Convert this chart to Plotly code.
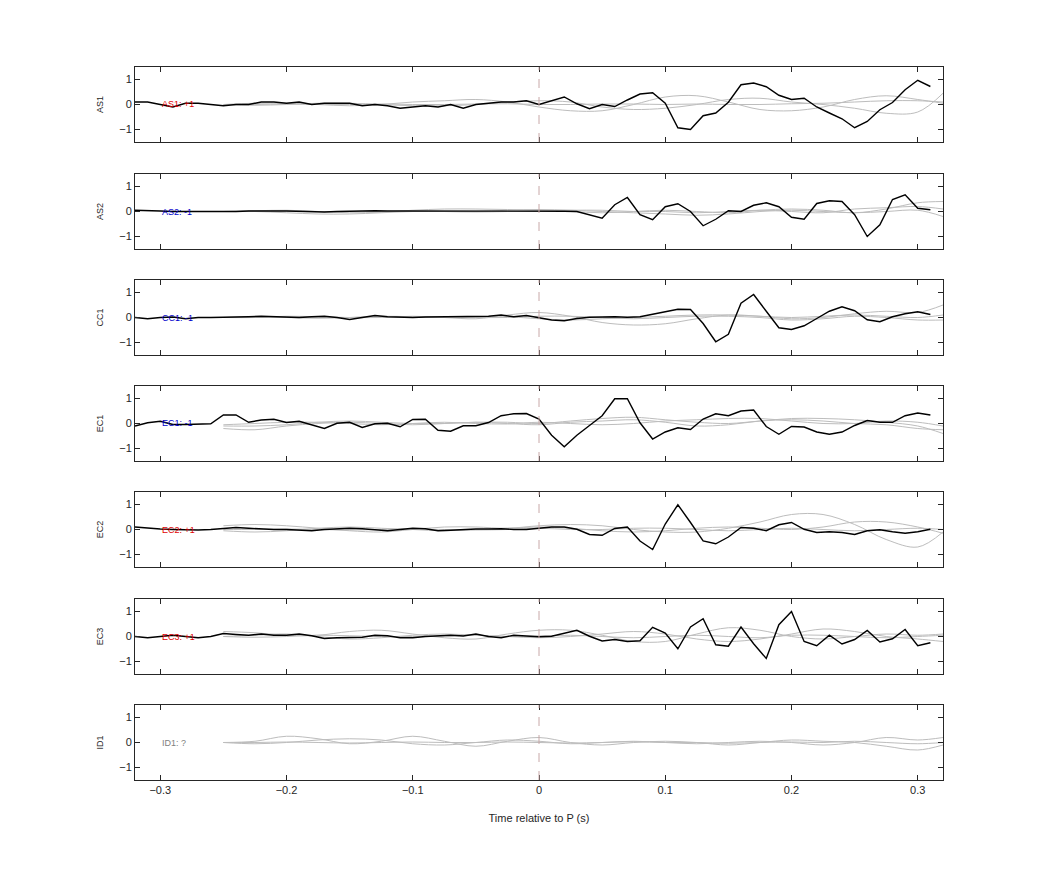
import plotly.graph_objects as go

T = [round(-0.32 + 0.01 * i, 2) for i in range(64)]  # -0.32 .. 0.31
GX = [-0.25, -0.225, -0.2, -0.175, -0.15, -0.125, -0.1, -0.075, -0.05, -0.025, 0.0, 0.025,
      0.05, 0.075, 0.1, 0.125, 0.15, 0.175, 0.2, 0.225, 0.25, 0.275, 0.3, 0.32]

stations = ["AS1", "AS2", "CC1", "EC1", "EC2", "EC3", "ID1"]
labels = ["AS1: +1", "AS2: -1", "CC1: -1", "EC1: -1", "EC2: +1", "EC3: +1", "ID1: ?"]
label_colors = ["#e00000", "#0000cc", "#0000cc", "#0000cc", "#e00000", "#e00000", "#808080"]

AS1 = [0.1, 0.1, 0.0, -0.1, 0.05, 0.05, 0.0, -0.05, 0.0, 0.0, 0.1, 0.1, 0.05, 0.1, 0.0, 0.05,
       0.05, 0.05, -0.05, 0.0, -0.05, -0.15, -0.1, -0.05, -0.1, 0.0, -0.15, 0.0, 0.05, 0.1, 0.1, 0.15,
       0.0, 0.15, 0.3, 0.03, -0.17, 0.0, -0.08, 0.18, 0.42, 0.47, 0.05, -0.93, -1.0, -0.45, -0.34, 0.09,
       0.79, 0.86, 0.71, 0.37, 0.2, 0.25, -0.1, -0.34, -0.57, -0.93, -0.68, -0.21, 0.08, 0.59, 0.97, 0.72]
AS2 = [0.05, 0.05, 0.02, 0.0, 0.0, 0.0, -0.02, 0.0, 0.0, 0.02, 0.03, 0.02, 0.02, 0.0, 0.0, -0.02,
       0.0, 0.02, 0.02, 0.03, 0.02, 0.02, 0.04, 0.03, 0.03, 0.02, 0.02, 0.03, 0.02, 0.02, 0.04, 0.04,
       0.04, 0.03, 0.01, 0.0, -0.13, -0.27, 0.27, 0.56, -0.13, -0.33, 0.19, 0.31, 0.0, -0.57, -0.31, 0.03,
       0.0, 0.25, 0.35, 0.19, -0.23, -0.31, 0.32, 0.43, 0.4, -0.13, -1.0, -0.53, 0.48, 0.67, 0.13, 0.07]
CC1 = [0.0, -0.05, 0.0, 0.02, -0.05, 0.0, 0.0, 0.0, 0.02, 0.03, 0.05, 0.03, 0.02, 0.0, 0.03, 0.05,
       0.0, -0.08, 0.0, 0.08, 0.03, 0.0, 0.0, 0.02, 0.03, 0.02, 0.03, 0.05, 0.05, 0.1, 0.03, 0.08,
       0.0, -0.1, -0.13, -0.04, 0.01, 0.03, 0.03, 0.01, 0.03, 0.13, 0.23, 0.33, 0.32, -0.24, -0.97, -0.67,
       0.57, 0.92, 0.25, -0.41, -0.48, -0.33, -0.04, 0.25, 0.43, 0.27, -0.09, -0.17, 0.03, 0.15, 0.23, 0.12]
EC1 = [-0.1, 0.03, 0.09, -0.04, -0.04, -0.04, -0.01, 0.34, 0.34, 0.05, 0.14, 0.17, 0.04, 0.09, -0.04, -0.2,
       0.01, 0.05, -0.16, -0.01, 0.01, -0.13, 0.16, 0.17, -0.27, -0.31, -0.09, -0.09, 0.04, 0.31, 0.39, 0.4,
       0.18, -0.47, -0.93, -0.47, -0.08, 0.31, 0.99, 0.99, 0.03, -0.62, -0.34, -0.17, -0.24, 0.18, 0.39, 0.31,
       0.5, 0.54, -0.12, -0.43, -0.12, -0.14, -0.34, -0.43, -0.34, -0.08, 0.12, 0.05, 0.05, 0.31, 0.42, 0.34]
EC2 = [0.1, 0.05, 0.02, 0.0, -0.02, -0.02, 0.0, 0.05, 0.08, 0.05, 0.02, 0.0, 0.0, -0.03, -0.05, 0.0,
       0.02, 0.05, 0.03, 0.0, -0.05, 0.0, 0.05, 0.03, -0.05, -0.03, 0.0, 0.02, 0.02, 0.03, 0.0, 0.0,
       0.05, 0.1, 0.1, 0.01, -0.2, -0.23, 0.04, 0.1, -0.46, -0.8, 0.22, 0.99, 0.28, -0.46, -0.57, -0.3,
       0.08, 0.05, -0.05, 0.19, 0.28, 0.01, -0.12, -0.09, -0.12, -0.2, -0.05, -0.01, -0.09, -0.15, -0.09, 0.01]
EC3 = [0.0, -0.05, 0.0, 0.05, 0.0, -0.05, 0.0, 0.12, 0.08, 0.05, 0.1, 0.05, 0.05, 0.1, 0.03, -0.08,
       -0.05, -0.05, -0.03, 0.05, 0.03, -0.05, -0.05, 0.0, 0.03, 0.05, 0.02, 0.1, 0.0, -0.05, 0.05, 0.03,
       -0.01, 0.01, 0.12, 0.25, 0.01, -0.18, -0.12, -0.2, -0.17, 0.37, 0.14, -0.49, 0.38, 0.71, -0.33, -0.39,
       0.38, -0.29, -0.88, 0.47, 1.0, -0.2, -0.37, 0.05, -0.3, -0.12, 0.24, -0.22, -0.09, 0.28, -0.37, -0.25]
ID1 = None
black = [AS1, AS2, CC1, EC1, EC2, EC3, ID1]

G_AS1 = [
    [0.0, 0.05, 0.05, 0.0, -0.05, 0.0, 0.1, 0.15, 0.2, 0.1, -0.1, -0.25, -0.25, 0.0, 0.3, 0.35, 0.1, -0.2, -0.25, -0.1, 0.2, 0.35, 0.2, 0.05],
    [0.0, -0.03, 0.0, 0.05, 0.05, 0.0, -0.05, -0.05, 0.0, 0.1, 0.15, 0.1, -0.1, -0.2, -0.15, 0.0, 0.2, 0.25, 0.1, 0.0, -0.15, -0.35, -0.3, 0.45],
    [0.0, 0.0, 0.02, 0.0, 0.0, 0.02, 0.0, 0.0, 0.02, 0.03, 0.0, 0.0, 0.02, 0.02, 0.0, 0.02, 0.0, 0.0, 0.03, 0.05, 0.1, 0.15, 0.15, 0.1],
]
G_AS2 = [
    [0.0, 0.03, 0.05, 0.0, -0.05, -0.03, 0.05, 0.1, 0.1, 0.08, 0.05, 0.0, -0.05, 0.0, 0.05, 0.0, -0.05, 0.05, 0.1, 0.05, -0.05, 0.1, 0.35, 0.4],
    [0.0, 0.0, -0.05, -0.1, -0.1, -0.05, 0.0, 0.0, 0.0, 0.05, 0.08, 0.05, 0.0, -0.05, -0.1, -0.15, -0.1, 0.0, 0.05, 0.0, -0.05, 0.0, 0.05, -0.2],
    [0.0, 0.0, 0.02, 0.0, 0.0, 0.0, 0.02, 0.0, -0.02, 0.0, 0.03, 0.05, 0.05, 0.0, 0.0, -0.05, 0.0, 0.05, 0.0, -0.05, 0.1, 0.15, 0.2, 0.1],
]
G_CC1 = [
    [0.0, 0.0, 0.05, 0.03, 0.0, 0.0, 0.05, 0.0, -0.05, 0.1, 0.2, 0.05, -0.2, -0.3, -0.25, -0.05, 0.1, 0.05, -0.05, 0.0, 0.15, 0.25, 0.2, 0.5],
    [0.0, 0.03, 0.0, -0.03, 0.0, 0.05, 0.03, 0.0, 0.0, 0.0, 0.05, 0.05, 0.0, -0.05, 0.0, 0.05, 0.05, 0.0, -0.1, -0.05, 0.05, 0.0, -0.1, -0.1],
    [0.0, 0.0, 0.02, 0.0, 0.0, 0.02, 0.0, 0.02, 0.02, 0.03, -0.05, -0.1, -0.05, 0.0, 0.05, 0.1, 0.1, 0.05, 0.0, 0.05, 0.1, 0.05, 0.0, 0.1],
]
G_EC1 = [
    [-0.2, -0.25, -0.1, 0.0, 0.05, 0.0, -0.05, 0.0, 0.05, 0.05, 0.0, 0.1, 0.2, 0.25, 0.15, 0.05, 0.0, 0.1, 0.2, 0.2, 0.15, 0.05, -0.1, -0.4],
    [-0.1, -0.1, -0.05, 0.05, 0.1, 0.05, 0.0, 0.0, 0.05, 0.0, -0.05, 0.05, 0.1, 0.15, 0.05, -0.1, -0.05, 0.1, 0.15, 0.1, 0.0, -0.05, -0.2, -0.25],
    [-0.05, 0.0, 0.05, 0.05, 0.0, -0.05, 0.0, 0.05, 0.0, -0.02, 0.05, 0.0, -0.05, 0.0, 0.1, 0.15, 0.2, 0.2, 0.1, 0.0, 0.0, 0.1, 0.05, -0.1],
]
G_EC2 = [
    [0.15, 0.2, 0.15, 0.05, -0.05, -0.1, 0.0, 0.1, 0.1, 0.05, 0.15, 0.2, 0.15, 0.0, -0.1, -0.1, 0.05, 0.3, 0.6, 0.6, 0.2, -0.4, -0.7, -0.1],
    [-0.05, -0.1, -0.05, 0.05, 0.1, 0.05, 0.0, -0.05, 0.0, 0.05, 0.1, 0.05, -0.05, -0.1, -0.05, 0.05, 0.1, 0.05, 0.0, 0.1, 0.3, 0.3, 0.1, -0.15],
    [0.0, 0.0, 0.02, 0.0, -0.02, 0.0, 0.02, 0.0, -0.02, 0.0, 0.05, 0.0, 0.0, 0.05, 0.05, 0.0, -0.05, 0.0, 0.05, 0.0, -0.05, 0.0, 0.05, 0.0],
]
G_EC3 = [
    [0.2, 0.15, 0.05, 0.05, 0.2, 0.25, 0.1, -0.05, -0.1, 0.1, 0.25, 0.25, 0.05, -0.2, -0.2, 0.1, 0.35, 0.25, 0.0, -0.1, 0.0, 0.1, 0.05, 0.1],
    [0.0, 0.05, 0.1, 0.0, -0.1, -0.05, 0.05, 0.1, 0.05, 0.0, -0.05, 0.0, 0.1, 0.2, 0.1, -0.1, -0.2, -0.1, 0.1, 0.3, 0.2, 0.0, -0.1, -0.2],
    [0.0, -0.03, 0.0, 0.05, 0.03, 0.0, 0.0, 0.02, 0.05, 0.0, 0.02, 0.05, 0.0, -0.05, 0.0, 0.05, 0.0, -0.05, 0.05, 0.05, 0.0, -0.05, 0.0, 0.05],
]
G_ID1 = [
    [0.0, 0.05, 0.25, 0.15, -0.05, 0.05, 0.25, 0.05, -0.15, 0.05, 0.2, 0.0, -0.1, 0.0, 0.05, 0.0, -0.1, 0.0, 0.1, 0.05, 0.0, -0.15, -0.3, -0.1],
    [0.0, -0.05, 0.0, 0.1, 0.15, 0.1, -0.05, -0.1, 0.0, 0.1, 0.05, -0.05, 0.0, 0.05, 0.0, -0.05, 0.0, 0.05, 0.0, -0.1, 0.0, 0.2, 0.1, 0.2],
    [0.0, 0.0, 0.02, 0.0, -0.02, 0.0, 0.02, 0.0, 0.0, 0.02, 0.0, -0.02, 0.0, 0.03, 0.0, 0.0, -0.03, 0.0, 0.02, 0.0, 0.05, 0.0, -0.05, 0.0],
]
gray = [G_AS1, G_AS2, G_CC1, G_EC1, G_EC2, G_EC3, G_ID1]

W, H = 1042, 875
tops = [59, 166, 272, 378, 484, 591, 697]
ph = 75
fig = go.Figure()
axis_font = dict(family="Liberation Sans, Arial, sans-serif", size=11, color="#262626")
for i, st in enumerate(stations):
    ax = "" if i == 0 else str(i + 1)
    for g in gray[i]:
        fig.add_trace(go.Scatter(x=GX, y=g, mode="lines", line=dict(color="#bdbdbd", width=1, shape="spline"),
                                 xaxis="x" + ax, yaxis="y" + ax, showlegend=False, hoverinfo="skip"))
    if black[i] is not None:
        fig.add_trace(go.Scatter(x=T, y=black[i], mode="lines", line=dict(color="black", width=1.4),
                                 xaxis="x" + ax, yaxis="y" + ax, showlegend=False))
    dom_y = [1 - (tops[i] + ph) / H, 1 - tops[i] / H]
    last = i == len(stations) - 1
    fig.layout["xaxis" + ax] = dict(domain=[127 / W, 935 / W], range=[-0.32, 0.32], anchor="y" + ax,
                                    tickvals=[-0.3, -0.2, -0.1, 0, 0.1, 0.2, 0.3],
                                    showticklabels=last, ticks="inside", ticklen=5, mirror="ticks",
                                    showline=True, linecolor="#262626", linewidth=1, showgrid=False,
                                    zeroline=False, tickfont=axis_font, tickcolor="#262626",
                                    title=dict(text="Time relative to P (s)", font=axis_font, standoff=19) if last else None)
    fig.layout["yaxis" + ax] = dict(domain=dom_y, range=[-1.5, 1.5], anchor="x" + ax, tickvals=[-1, 0, 1],
                                    ticks="inside", ticklen=5, mirror="ticks", showline=True,
                                    linecolor="#262626", linewidth=1, showgrid=False, zeroline=False,
                                    tickfont=axis_font, tickcolor="#262626",
                                    title=dict(text=st, font=dict(family="Liberation Sans, Arial", size=9, color="#262626"), standoff=14))
    fig.add_shape(type="line", x0=0, x1=0, y0=0, y1=1, xref="x" + ax, yref="y" + ax + " domain",
                  line=dict(color="#c8a8a8", width=1, dash="dash"))
    fig.add_annotation(x=-0.3, y=0, xref="x" + ax, yref="y" + ax, text=labels[i], showarrow=False,
                       xanchor="left", yanchor="middle", font=dict(family="Liberation Sans, Arial", size=9, color=label_colors[i]))

fig.update_layout(width=W, height=H, margin=dict(l=0, r=0, t=0, b=0), plot_bgcolor="white",
                  paper_bgcolor="white", showlegend=False)
fig.write_html("out.html")
